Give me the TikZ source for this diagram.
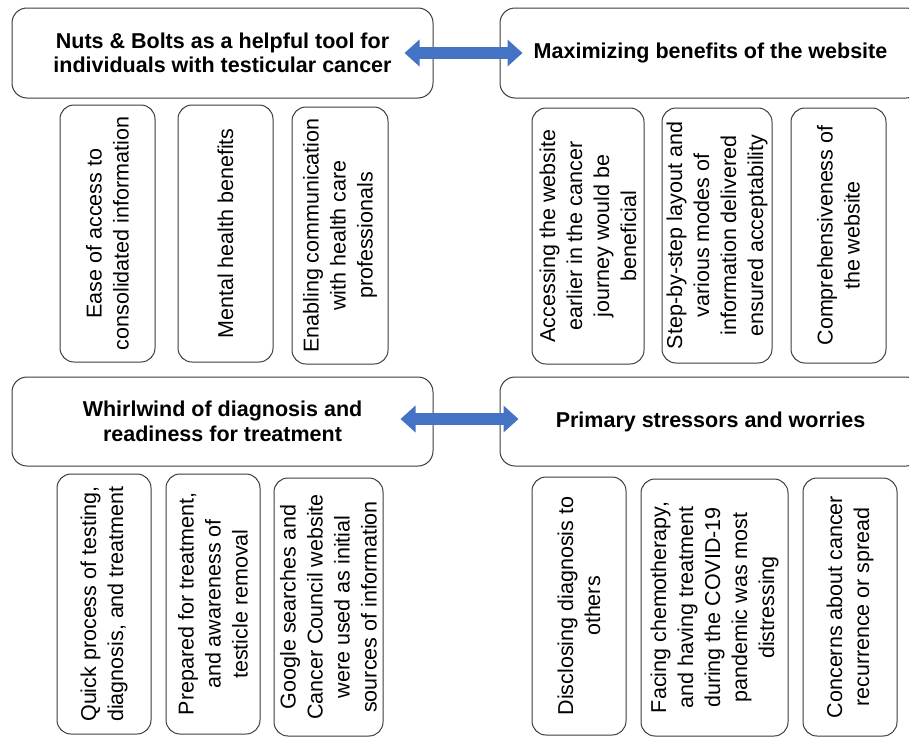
\documentclass[tikz,border=0pt]{standalone}
\usepackage{fontspec}
\setmainfont{Liberation Sans}
\usetikzlibrary{arrows.meta}
\definecolor{arrowblue}{RGB}{68,114,196}
\definecolor{boxline}{RGB}{60,60,60}
\begin{document}
\begin{tikzpicture}[x=1pt,y=-1pt,
  mainbox/.style={draw=boxline, line width=1pt, rounded corners=15pt, inner sep=0pt,
    minimum width=421pt, align=center, font=\fontsize{21.5}{24.5}\selectfont\bfseries},
  subbox/.style={draw=boxline, line width=1pt, rounded corners=14pt, inner sep=0pt,
    rotate=90, align=center, font=\fontsize{21.5}{27}\selectfont},
  dblarrow/.style={draw=arrowblue, line width=12pt,
    {Triangle[width=26pt,length=15pt]}-{Triangle[width=26pt,length=15pt]}}
]
\useasboundingbox (0,0) rectangle (909,736);
\clip (0,0) rectangle (909,736);

% main boxes
\node[mainbox, minimum height=90pt] (T1) at (222.5,53) {Nuts \& Bolts as a helpful tool for\\individuals with testicular cancer};
\node[mainbox, minimum height=90pt] (T2) at (710.5,53) {Maximizing benefits of the website};
\node[mainbox, minimum height=89pt] (B1) at (222.5,421.5) {Whirlwind of diagnosis and\\readiness for treatment};
\node[mainbox, minimum height=89pt] (B2) at (710.5,421.5) {Primary stressors and worries};

% arrows
\draw[dblarrow] ([xshift=-29pt]T1.east) -- ([xshift=23pt]T2.west);
\draw[dblarrow] ([xshift=-33pt,yshift=2.5pt]B1.east) -- ([xshift=19pt,yshift=2.5pt]B2.west);

% row 1 sub boxes
\node[subbox, minimum width=257pt, minimum height=95pt] (S1) at (107.5,233.5) {Ease of access to\\consolidated information};
\node[subbox, minimum width=257pt, minimum height=95pt] (S2) at (225.5,233.5) {Mental health benefits};
\node[subbox, minimum width=257pt, minimum height=96pt] (S3) at (340,235.5) {Enabling communication\\with health care\\professionals};
\node[subbox, minimum width=256pt, minimum height=112pt] (S4) at (588,236) {Accessing the website\\earlier in the cancer\\journey would be\\beneficial};
\node[subbox, minimum width=255pt, minimum height=110pt] (S5) at (717,235.5) {Step-by-step layout and\\various modes of\\information delivered\\ensured acceptability};
\node[subbox, minimum width=255pt, minimum height=95pt] (S6) at (838.5,235.5) {Comprehensiveness of\\the website};

% row 2 sub boxes
\node[subbox, minimum width=260pt, minimum height=94pt] (S7) at (104,604) {Quick process of testing,\\diagnosis, and treatment};
\node[subbox, minimum width=260pt, minimum height=94pt] (S8) at (213,604) {Prepared for treatment,\\and awareness of\\testicle removal};
\node[subbox, minimum width=258pt, minimum height=109pt] (S9) at (328.5,607) {Google searches and\\Cancer Council website\\were used as initial\\sources of information};
\node[subbox, minimum width=258pt, minimum height=94pt] (S10) at (579,606) {Disclosing diagnosis to\\others};
\node[subbox, minimum width=257pt, minimum height=147pt] (S11) at (714.5,607.5) {Facing chemotherapy,\\and having treatment\\during the COVID-19\\pandemic was most\\distressing};
\node[subbox, minimum width=258pt, minimum height=94pt] (S12) at (850,607) {Concerns about cancer\\recurrence or spread};
\end{tikzpicture}
\end{document}
